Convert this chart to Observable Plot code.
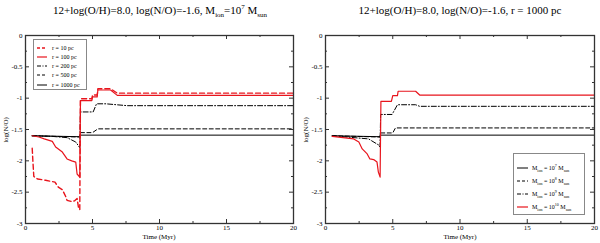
<!DOCTYPE html>
<html><head><meta charset="utf-8">
<script src="https://cdn.jsdelivr.net/npm/d3@7"></script>
<script src="https://cdn.jsdelivr.net/npm/@observablehq/plot@0.6"></script>
<style>
body{margin:0;background:#fff;}
#wrap{position:relative;width:600px;height:243px;overflow:hidden;font-family:"Liberation Serif","Times New Roman",serif;color:#000;}
.panel{position:absolute;top:0;}
.panel svg text{font-family:"Liberation Serif","Times New Roman",serif;}
.title{position:absolute;top:4px;font-size:11px;white-space:nowrap;transform:translateX(-50%);line-height:13px;}
.title sub{font-size:7px;vertical-align:-3px;line-height:0;}
.title sup{font-size:7px;vertical-align:5px;line-height:0;}
.xlab{position:absolute;top:233px;font-size:7px;line-height:8px;white-space:nowrap;transform:translateX(-50%);}
.ylab{position:absolute;left:6px;top:130px;font-size:7px;line-height:8px;white-space:nowrap;transform:translate(-50%,-50%) rotate(-90deg);}
.legend{position:absolute;border:1px solid #888;background:#fff;font-size:6px;box-sizing:border-box;}
.legend .row{position:absolute;left:0;white-space:nowrap;height:8px;line-height:8px;}
.legend svg{position:absolute;top:0;}
.legend span{position:absolute;top:0;}
.legend sub{font-size:4px;vertical-align:-2px;line-height:0;}
.legend sup{font-size:4px;vertical-align:3px;line-height:0;}
</style>
</head><body>
<div id="wrap"></div>
<script>
// ---------- data ----------
const xMajor = [0, 5, 10, 15, 20];
const xMinor = [2.5, 7.5, 12.5, 17.5];
const yMajor = [0, -0.5, -1, -1.5, -2, -2.5, -3];
const yMinor = [-0.25, -0.75, -1.25, -1.75, -2.25, -2.75];

// Left panel: M_ion = 1e7 Msun, different radii
const tR10 = [0.5, 0.55, 0.62, 0.9, 1.5, 2.2, 2.45, 2.75, 3.0, 3.1, 3.45, 3.65, 3.85, 3.95, 4.05, 4.1, 4.95, 5.0, 5.35, 5.4, 6.35, 6.85, 20];
const vR10 = [-1.8, -2.0, -2.25, -2.29, -2.31, -2.34, -2.42, -2.46, -2.57, -2.63, -2.65, -2.64, -2.6, -2.74, -2.78, -1.01, -1.01, -0.95, -0.95, -0.85, -0.85, -0.92, -0.92];

const tR100 = [0.5, 1.0, 1.4, 2.0, 2.25, 2.75, 3.1, 3.45, 3.75, 3.85, 4.05, 4.1, 4.95, 5.0, 5.35, 5.4, 6.35, 6.85, 20];
const vR100 = [-1.6, -1.62, -1.65, -1.69, -1.78, -1.86, -1.97, -2.0, -2.02, -2.21, -2.26, -1.04, -1.04, -0.98, -0.98, -0.87, -0.87, -0.955, -0.955];

const tR200 = [0.5, 2.0, 3.1, 3.75, 4.05, 4.1, 5.05, 5.3, 6.0, 7.6, 20];
const vR200 = [-1.6, -1.61, -1.63, -1.70, -1.79, -1.22, -1.22, -1.09, -1.09, -1.12, -1.12];

const tR500 = [0.5, 4.05, 4.1, 5.0, 5.4, 20];
const vR500 = [-1.6, -1.62, -1.55, -1.55, -1.49, -1.49];

const tR1000 = [0.5, 4.05, 4.1, 20];
const vR1000 = [-1.6, -1.615, -1.59, -1.59];

// Right panel: r = 1000 pc, different masses
const tM7 = [0.5, 4.05, 4.1, 20];
const vM7 = [-1.6, -1.615, -1.59, -1.59];

const tM8 = [0.5, 4.05, 4.1, 5.0, 5.2, 20];
const vM8 = [-1.6, -1.62, -1.555, -1.555, -1.475, -1.475];

const tM9 = [0.5, 3.2, 3.97, 4.05, 4.1, 4.95, 5.35, 6.7, 7.0, 20];
const vM9 = [-1.6, -1.65, -1.75, -1.78, -1.26, -1.26, -1.105, -1.105, -1.13, -1.13];

const tM10 = [0.5, 2.1, 2.48, 2.73, 3.1, 3.3, 3.58, 3.83, 3.93, 4.06, 4.12, 4.9, 5.0, 5.35, 5.4, 6.7, 7.0, 20];
const vM10 = [-1.61, -1.65, -1.70, -1.81, -1.89, -1.97, -1.98, -2.02, -2.18, -2.26, -1.05, -1.05, -0.96, -0.96, -0.89, -0.89, -0.95, -0.95];

const leftTitle = '12+log(O/H)=8.0, log(N/O)=-1.6, M<sub>ion</sub>=10<sup>7</sup> M<sub>sun</sub>';
const rightTitle = '12+log(O/H)=8.0, log(N/O)=-1.6, r = 1000 pc';
const xLabel = 'Time (Myr)';
const yLabel = 'log(N/O)';

const leftLegend = ['r = 10 pc', 'r = 100 pc', 'r = 200 pc', 'r = 500 pc', 'r = 1000 pc'];
const rightLegend = [
  'M<sub>ion</sub> = 10<sup>7</sup> M<sub>sun</sub>',
  'M<sub>ion</sub> = 10<sup>8</sup> M<sub>sun</sub>',
  'M<sub>ion</sub> = 10<sup>9</sup> M<sub>sun</sub>',
  'M<sub>ion</sub> = 10<sup>10</sup> M<sub>sun</sub>'
];

// ---------- styles ----------
const RED = "#e8141c";
const S = {
  redDash: {stroke: RED, strokeWidth: 1.4, dash: "5,3", legendDash: "3,2"},
  redSolid: {stroke: RED, strokeWidth: 1.2, dash: null},
  dashDot: {stroke: "#000", strokeWidth: 1, dash: "5,2,1,2", legendDash: "4,1.5,1,1.5"},
  dashed: {stroke: "#000", strokeWidth: 1, dash: "4,2.5", legendDash: "3,2"},
  solid: {stroke: "#000", strokeWidth: 1, dash: null}
};

function zip(t, v) { return t.map((x, i) => ({t: x, v: v[i]})); }

const mt = 35, mb = 20, ml = 25;
const H = 243, W = 300;

function panel(series, mr) {
  const fh = H - mt - mb, fw = W - ml - mr;
  const marks = [];
  for (const [t, v, s] of series) {
    marks.push(Plot.line(zip(t, v), {x: "t", y: "v", stroke: s.stroke, strokeWidth: s.strokeWidth, strokeDasharray: s.dash || undefined, curve: "linear"}));
  }
  const tk = "#333";
  marks.push(
    Plot.tickX(xMajor, {x: d => d, insetTop: fh - 4, stroke: tk}),
    Plot.tickX(xMajor, {x: d => d, insetBottom: fh - 4, stroke: tk}),
    Plot.tickX(xMinor, {x: d => d, insetTop: fh - 2, stroke: tk}),
    Plot.tickX(xMinor, {x: d => d, insetBottom: fh - 2, stroke: tk}),
    Plot.tickY(yMajor, {y: d => d, insetRight: fw - 4, stroke: tk}),
    Plot.tickY(yMajor, {y: d => d, insetLeft: fw - 4, stroke: tk}),
    Plot.tickY(yMinor, {y: d => d, insetRight: fw - 2, stroke: tk}),
    Plot.tickY(yMinor, {y: d => d, insetLeft: fw - 2, stroke: tk}),
    Plot.frame({stroke: "#333", strokeWidth: 1.3}),
    Plot.axisX({ticks: xMajor, tickSize: 0, tickPadding: 2, label: null, tickFormat: d => String(d), fontSize: 7}),
    Plot.axisY({ticks: yMajor, tickSize: 0, tickPadding: 3, label: null, tickFormat: d => String(d), fontSize: 7})
  );
  return Plot.plot({
    width: W, height: H,
    marginLeft: ml, marginRight: mr, marginTop: mt, marginBottom: mb,
    x: {domain: [0, 20]},
    y: {domain: [-3, 0]},
    style: {fontFamily: '"Liberation Serif","Times New Roman",serif', fontSize: "7px", background: "transparent", overflow: "visible"},
    marks
  });
}

const wrap = document.getElementById("wrap");

function place(el, left) {
  const d = document.createElement("div");
  d.className = "panel";
  d.style.left = left + "px";
  d.appendChild(el);
  wrap.appendChild(d);
}

place(panel([
  [tR1000, vR1000, S.solid],
  [tR500, vR500, S.dashed],
  [tR200, vR200, S.dashDot],
  [tR100, vR100, S.redSolid],
  [tR10, vR10, S.redDash]
], 7), 0);

place(panel([
  [tM7, vM7, S.solid],
  [tM8, vM8, S.dashed],
  [tM9, vM9, S.dashDot],
  [tM10, vM10, S.redSolid]
], 6), 300);

function addDiv(cls, html, styles) {
  const d = document.createElement("div");
  d.className = cls;
  d.innerHTML = html;
  Object.assign(d.style, styles || {});
  wrap.appendChild(d);
  return d;
}

addDiv("title", leftTitle, {left: "160px"});
addDiv("title", rightTitle, {left: "460px"});
addDiv("xlab", xLabel, {left: "159px"});
addDiv("xlab", xLabel, {left: "460px"});
addDiv("ylab", yLabel, {left: "6px"});
addDiv("ylab", yLabel, {left: "306px"});

function legend(box, items, styles, rowYs, lineX, textX) {
  const lg = addDiv("legend", "", {left: box[0] + "px", top: box[1] + "px", width: box[2] + "px", height: box[3] + "px"});
  items.forEach((txt, i) => {
    const s = styles[i];
    const row = document.createElement("div");
    row.className = "row";
    row.style.top = (rowYs[i] - box[1] - 4) + "px";
    row.style.width = (box[2] - 2) + "px";
    const svg = d3.create("svg").attr("width", lineX[1] - lineX[0] + 2).attr("height", 8)
      .style("left", (lineX[0] - box[0] - 1) + "px");
    svg.append("line").attr("x1", 1).attr("x2", lineX[1] - lineX[0] + 1).attr("y1", 4).attr("y2", 4)
      .attr("stroke", s.stroke).attr("stroke-width", s.strokeWidth)
      .attr("stroke-dasharray", s.legendDash || null);
    row.appendChild(svg.node());
    const sp = document.createElement("span");
    sp.style.left = (textX - box[0] - 1) + "px";
    sp.innerHTML = txt;
    row.appendChild(sp);
    lg.appendChild(row);
  });
}

legend([33, 39, 54, 51], leftLegend, [S.redDash, S.redSolid, S.dashDot, S.dashed, S.solid],
  [46.5, 56, 65, 74.2, 83.5], [36, 46], 52);
legend([513, 153, 72, 62], rightLegend, [S.solid, S.dashed, S.dashDot, S.redSolid],
  [166.5, 180, 193, 206], [516, 527], 532);
</script>
</body></html>
